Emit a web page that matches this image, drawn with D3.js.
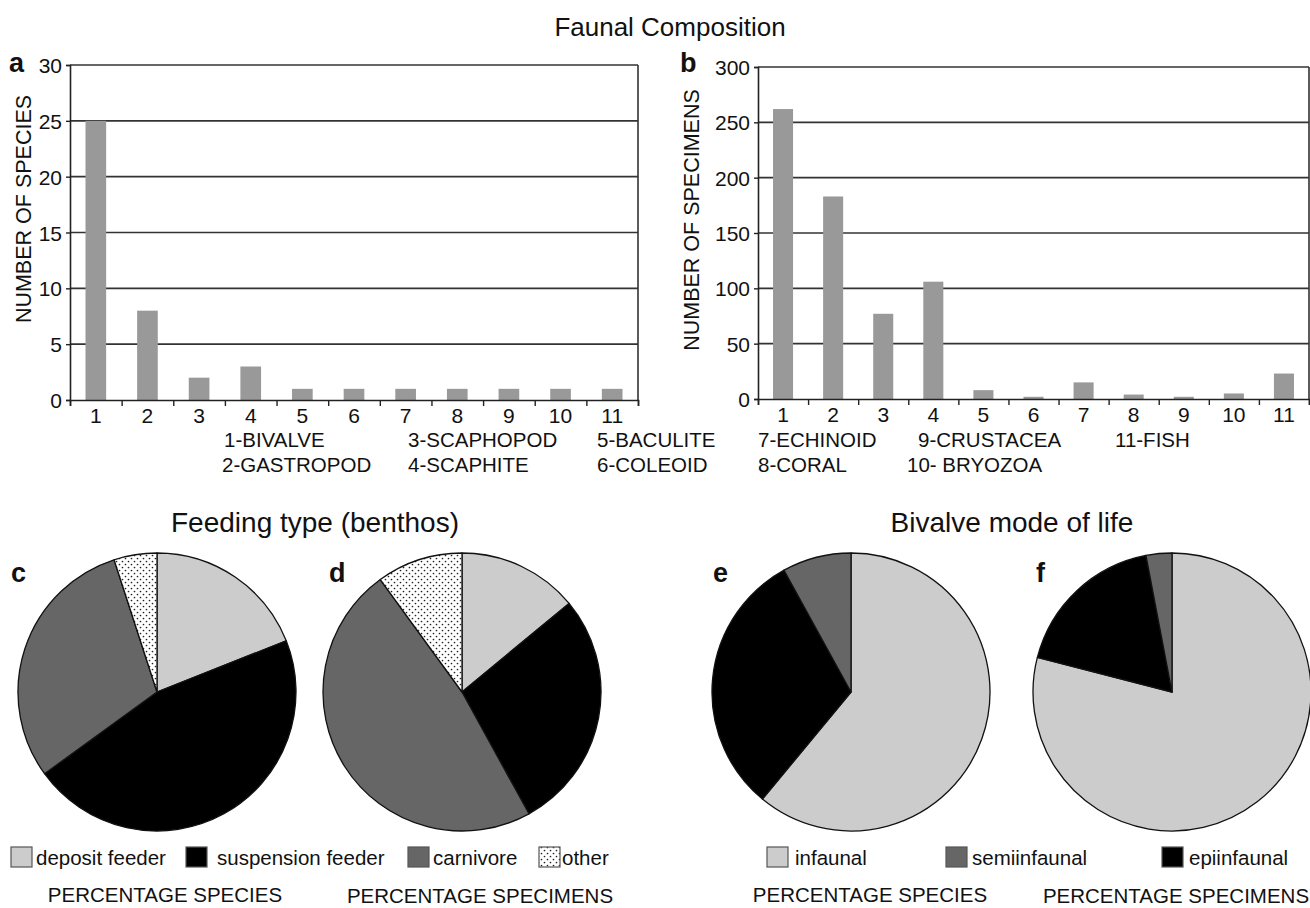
<!DOCTYPE html>
<html><head><meta charset="utf-8">
<script src="https://cdn.jsdelivr.net/npm/d3@7"></script>
<style>
body{margin:0;background:#fff}
text{font-family:"Liberation Sans",Arial,Helvetica,sans-serif;fill:#111}
</style></head>
<body><svg id="chart" width="1310" height="908"></svg>
<script>
// ---------- DATA ----------
const taxa = ['1','2','3','4','5','6','7','8','9','10','11'];
const speciesCounts  = [25, 8, 2, 3, 1, 1, 1, 1, 1, 1, 1];
const specimenCounts = [262, 183, 77, 106, 8, 2, 15, 4, 2, 5, 23];
const speciesTicks  = [0, 5, 10, 15, 20, 25, 30];
const specimenTicks = [0, 50, 100, 150, 200, 250, 300];
const taxonKeyA = [['1-BIVALVE','2-GASTROPOD'],['3-SCAPHOPOD','4-SCAPHITE'],['5-BACULITE','6-COLEOID']];
const taxonKeyB = [['7-ECHINOID','8-CORAL'],['9-CRUSTACEA','10- BRYOZOA'],['11-FISH','']];

const feedingTypes     = ['deposit feeder','suspension feeder','carnivore','other'];
const feedingSpecies   = [19, 46, 30, 5];
const feedingSpecimens = [14, 28, 48, 10];

const lifeModes        = ['infaunal','semiinfaunal','epiinfaunal'];
const lifeModeSpecies   = [61, 8, 31];
const lifeModeSpecimens = [79, 3, 18];
const lifeModeSliceOrder = ['infaunal','epiinfaunal','semiinfaunal'];

// ---------- STYLE ----------
const FONT = '"Liberation Sans",Arial,Helvetica,sans-serif';
const feedColor = {'deposit feeder':'#cccccc','suspension feeder':'#000000','carnivore':'#666666','other':'url(#dots)'};
const modeColor = {'infaunal':'#cccccc','semiinfaunal':'#666666','epiinfaunal':'#000000'};

const svg = d3.select('#chart');
const defs = svg.append('defs');
const pat = defs.append('pattern').attr('id','dots').attr('patternUnits','userSpaceOnUse')
  .attr('width',6).attr('height',6);
pat.append('rect').attr('width',6).attr('height',6).attr('fill','#fff');
pat.append('circle').attr('cx',1.5).attr('cy',1.5).attr('r',0.85).attr('fill','#222');
pat.append('circle').attr('cx',4.5).attr('cy',4.5).attr('r',0.85).attr('fill','#222');

function txt(x, y, s, size, opts={}) {
  const t = svg.append('text').attr('x',x).attr('y',y).text(s)
    .attr('font-size',size).attr('text-anchor',opts.anchor||'start');
  if (opts.bold) t.attr('font-weight','bold');
  return t;
}

// ---------- TITLE ----------
txt(670, 36, 'Faunal Composition', 26, {anchor:'middle'});

// ---------- BAR CHARTS ----------
function barChart(cfg) {
  const g = svg.append('g');
  const x = d3.scaleBand().domain(taxa).range([cfg.left, cfg.right]);
  const y = d3.scaleLinear().domain([0, cfg.ticks[cfg.ticks.length-1]]).range([cfg.bottom, cfg.top]);
  // grid
  g.selectAll('line.grid').data(cfg.ticks.filter(t=>t>0)).join('line')
    .attr('x1', cfg.left).attr('x2', cfg.right)
    .attr('y1', d=>y(d)).attr('y2', d=>y(d))
    .attr('stroke','#333').attr('stroke-width',1.6);
  g.append('line').attr('x1',cfg.right).attr('x2',cfg.right)
    .attr('y1',y(cfg.ticks[cfg.ticks.length-1])).attr('y2',cfg.bottom)
    .attr('stroke','#333').attr('stroke-width',1.6);
  // bars
  const bw = x.bandwidth()*0.4;
  g.selectAll('rect.bar').data(cfg.values).join('rect')
    .attr('x',(d,i)=>x(taxa[i]) + (x.bandwidth()-bw)/2)
    .attr('width', bw)
    .attr('y', d=>y(d)).attr('height', d=>cfg.bottom - y(d))
    .attr('fill','#999999');
  // y axis
  const ya = g.append('g').attr('transform',`translate(${cfg.left},0)`)
    .call(d3.axisLeft(y).tickValues(cfg.ticks).tickSize(4).tickPadding(4).tickFormat(d3.format('d')));
  ya.select('.domain').attr('stroke','#222').attr('stroke-width',1.6);
  ya.selectAll('.tick line').attr('stroke','#222').attr('stroke-width',1.4);
  ya.selectAll('text').attr('font-size',21).attr('font-family',FONT).attr('fill','#111').attr('dy','0.36em');
  // x axis: boundary ticks
  const xb = d3.scaleLinear().domain([0, taxa.length]).range([cfg.left, cfg.right]);
  const xa = g.append('g').attr('transform',`translate(0,${cfg.bottom})`)
    .call(d3.axisBottom(xb).tickValues(d3.range(taxa.length+1)).tickSize(6).tickFormat(''));
  xa.select('.domain').attr('stroke','#222').attr('stroke-width',1.6);
  xa.selectAll('.tick line').attr('stroke','#222').attr('stroke-width',1.4);
  // x labels at band centers
  const xl = g.append('g').attr('transform',`translate(0,${cfg.bottom})`)
    .call(d3.axisBottom(x).tickSize(0).tickPadding(8));
  xl.select('.domain').remove();
  xl.selectAll('text').attr('font-size',21).attr('font-family',FONT).attr('fill','#111');
  // axis title
  svg.append('text').attr('transform',`translate(${cfg.titleX},${cfg.titleY}) rotate(-90)`)
    .attr('text-anchor','middle').attr('font-size',21.5).text(cfg.title);
  // panel letter
  txt(cfg.letterX, 72, cfg.letter, 27, {bold:true});
}

barChart({left:70, right:638, top:65, bottom:400, values:speciesCounts, ticks:speciesTicks,
  title:'NUMBER OF SPECIES', titleX:31, titleY:209, letter:'a', letterX:9});
barChart({left:758, right:1309, top:67, bottom:399, values:specimenCounts, ticks:specimenTicks,
  title:'NUMBER OF SPECIMENS', titleX:699, titleY:220, letter:'b', letterX:680});

// taxon keys
const keyXA = [224, 408, 597];
const keyXB = [758, 918, 1115];
taxonKeyA.forEach((pair,i)=>{ txt(keyXA[i], 447, pair[0], 20.5); txt(i===0?222:keyXA[i], 472, pair[1], 20.5); });
taxonKeyB.forEach((pair,i)=>{ txt(keyXB[i], 447, pair[0], 20.5); if(pair[1]) txt(i===1?907:keyXB[i], 472, pair[1], 20.5); });

// ---------- PIES ----------
txt(315, 532, 'Feeding type (benthos)', 28, {anchor:'middle'});
txt(1012, 532, 'Bivalve mode of life', 28, {anchor:'middle'});

const R = 139;
const arc = d3.arc().innerRadius(0).outerRadius(R);
function pie(cx, cy, labels, values, colors, letter, lx) {
  const data = labels.map((l,i)=>({label:l, value:values[i]}));
  const arcs = d3.pie().sort(null).value(d=>d.value)(data);
  const g = svg.append('g').attr('transform',`translate(${cx},${cy})`);
  g.selectAll('path').data(arcs).join('path').attr('d', arc)
    .attr('fill', d=>colors[d.data.label]).attr('stroke','#111').attr('stroke-width',1.3)
    .attr('stroke-linejoin','round');
  txt(lx, 582, letter, 27, {bold:true});
}
pie(157, 692, feedingTypes, feedingSpecies, feedColor, 'c', 11);
pie(462, 692, feedingTypes, feedingSpecimens, feedColor, 'd', 329);
const ordered = (vals)=> lifeModeSliceOrder.map(l=>vals[lifeModes.indexOf(l)]);
pie(851, 692, lifeModeSliceOrder, ordered(lifeModeSpecies), modeColor, 'e', 713);
pie(1172, 692, lifeModeSliceOrder, ordered(lifeModeSpecimens), modeColor, 'f', 1036);

// legends
function legendItem(x, label, fill, textX) {
  svg.append('rect').attr('x',x).attr('y',847).attr('width',21).attr('height',20)
    .attr('fill',fill).attr('stroke','#555').attr('stroke-width',1.2);
  txt(textX, 865, label, 20.5);
}
const feedLegendX = [11, 186, 408, 539];
const feedLegendTX = [36, 217, 433, 562];
feedingTypes.forEach((l,i)=>legendItem(feedLegendX[i], l, feedColor[l], feedLegendTX[i]));
const modeLegendX = [767, 946, 1162];
const modeLegendTX = [795, 972, 1189];
lifeModes.forEach((l,i)=>legendItem(modeLegendX[i], l, modeColor[l], modeLegendTX[i]));

txt(165, 902, 'PERCENTAGE SPECIES', 20.5, {anchor:'middle'});
txt(480, 903, 'PERCENTAGE SPECIMENS', 20.5, {anchor:'middle'});
txt(870, 902, 'PERCENTAGE SPECIES', 20.5, {anchor:'middle'});
txt(1176, 903, 'PERCENTAGE SPECIMENS', 20.5, {anchor:'middle'});
</script></body></html>
